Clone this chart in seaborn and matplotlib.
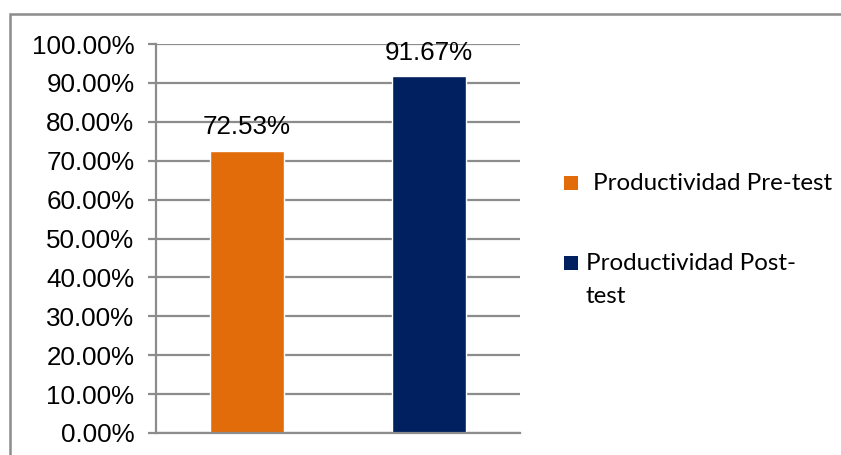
import matplotlib
matplotlib.use("Agg")
import matplotlib.pyplot as plt
from matplotlib.patches import Rectangle
from matplotlib.ticker import MultipleLocator, FuncFormatter
import pandas as pd
import seaborn as sns

# Chart data
categories = ["Productividad Pre-test", "Productividad Post-test"]
legend_lines = [["Productividad Pre-test"], ["Productividad Post-", "test"]]
values = [72.53, 91.67]
colors = ["#E36C0A", "#002060"]

sns.set_theme(style="white")
plt.rcParams["font.family"] = ["Liberation Sans", "DejaVu Sans"]

W, H = 841, 455
fig = plt.figure(figsize=(W / 100, H / 100), dpi=100)
ax = fig.add_axes([156 / W, 22 / H, 364 / W, 389 / H])

df = pd.DataFrame({"cat": categories, "val": values})
sns.barplot(data=df, x="cat", y="val", hue="cat", palette=colors,
            width=0.41, legend=False, ax=ax, saturation=1)

grid_c = "#8C8C8C"
ax.set_ylim(0, 100)
ax.set_xlim(-0.5, 1.5)
ax.yaxis.set_major_locator(MultipleLocator(10))
ax.yaxis.set_major_formatter(FuncFormatter(lambda v, p: f"{v:.2f}%"))
ax.grid(axis="y", color=grid_c, linewidth=1.6)
ax.set_axisbelow(True)
ax.set_xlabel("")
ax.set_ylabel("")
ax.set_xticks([])
ax.tick_params(axis="y", which="major", left=True, length=6, width=1.6,
               color=grid_c, pad=9.5, labelsize=18.7, labelcolor="black")
for side in ("top", "right"):
    ax.spines[side].set_visible(False)
for side in ("left", "bottom"):
    ax.spines[side].set_color(grid_c)
    ax.spines[side].set_linewidth(1.6)

# Value labels above the bars
for i, v in enumerate(values):
    ax.annotate(f"{v:.2f}%", xy=(i, v), xytext=(0, 17), textcoords="offset points",
                ha="center", va="center", fontsize=18.7, color="black")

# Legend drawn at the right of the plot
leg_font = ["Lato", "DejaVu Sans"]
sq = 14
rows = [(190, 593), (270, 586)]   # (baseline y, text x) in pixels
line_gap = 33
for (yb, xt), c, lines in zip(rows, colors, legend_lines):
    fig.add_artist(Rectangle((564 / W, 1 - yb / H), sq / W, sq / H,
                             transform=fig.transFigure, facecolor=c, edgecolor="none"))
    for k, line in enumerate(lines):
        fig.text(xt / W, 1 - (yb + k * line_gap) / H, line,
                 ha="left", va="baseline", fontsize=17.4, family=leg_font,
                 color="black")

# Outer chart frame
top = 1 - 14 / H
fig.add_artist(Rectangle((10 / W, -0.2), 1.2, top + 0.2,
                         transform=fig.transFigure, fill=False,
                         edgecolor="#8C8C8C", linewidth=1.8))

fig.savefig("out.png", dpi=100)
